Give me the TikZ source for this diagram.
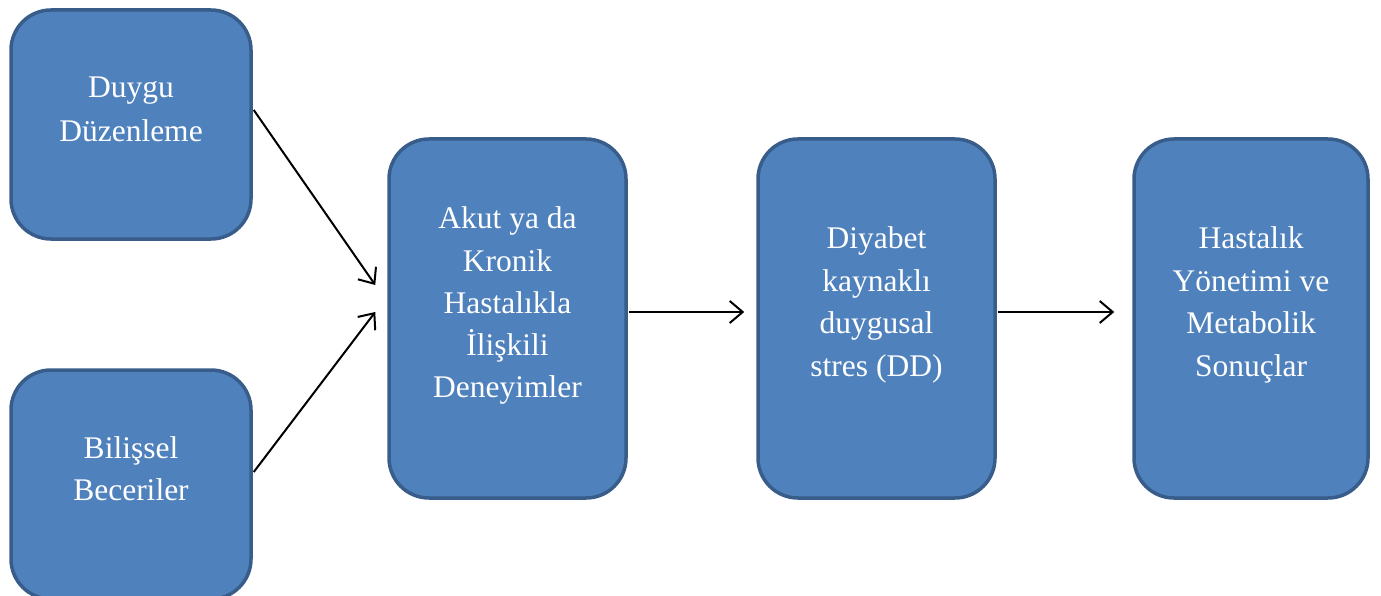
\documentclass[tikz,border=0pt]{standalone}
\usepackage{fontspec}
\setmainfont{Liberation Serif}
\usetikzlibrary{arrows.meta,calc}
\definecolor{boxfill}{HTML}{4F81BD}
\definecolor{boxline}{HTML}{385D8A}
\tikzset{
  box/.style={draw=boxline, fill=boxfill, line width=3.5pt, rounded corners=40pt, inner sep=0pt, rectangle},
  txt/.style={text=white, font=\fontsize{31.5}{42}\selectfont, inner sep=0pt, anchor=base},
  conn/.style={line width=2pt, -{Straight Barb[length=13pt,width=22pt,line width=2pt]}}
}
\begin{document}
\begin{tikzpicture}[x=1pt,y=-1pt]
\clip (0,0) rectangle (1381,596);
\useasboundingbox (0,0) rectangle (1381,596);
\node[box, minimum width=240pt, minimum height=229pt] (b1) at (131,124.5) {};
\node[box, minimum width=240pt, minimum height=229pt] (b2) at (131,484.5) {};
\node[box, minimum width=237pt, minimum height=359pt] (b3) at (507.5,318.5) {};
\node[box, minimum width=237pt, minimum height=359pt] (b4) at (876.5,318.5) {};
\node[box, minimum width=234pt, minimum height=359pt] (b5) at (1251,318.5) {};
% texts
\node[txt] (t1a) at (131,98) {Duygu};
\node[txt] (t1b) at (131,142) {Düzenleme};
\node[txt] (t2a) at (131,458) {Bilişsel};
\node[txt] (t2b) at (131,500) {Beceriler};
\node[txt] (t3a) at (507.5,229) {Akut ya da};
\node[txt] (t3b) at (507.5,271) {Kronik};
\node[txt] (t3c) at (507.5,313) {Hastalıkla};
\node[txt] (t3d) at (507.5,355) {İlişkili};
\node[txt] (t3e) at (507.5,397) {Deneyimler};
\node[txt] (t4a) at (876.5,248) {Diyabet};
\node[txt] (t4b) at (876.5,291) {kaynaklı};
\node[txt] (t4c) at (876.5,333) {duygusal};
\node[txt] (t4d) at (876.5,376) {stres (DD)};
\node[txt] (t5a) at (1251,248) {Hastalık};
\node[txt] (t5b) at (1251,291) {Yönetimi ve};
\node[txt] (t5c) at (1251,333) {Metabolik};
\node[txt] (t5d) at (1251,376) {Sonuçlar};
% connectors
\draw[conn] ($(b1.east)+(1,-14.5)$) -- ($(b3.west)+(-12,-33.5)$);
\draw[conn] ($(b2.east)+(1,-12.5)$) -- ($(b3.west)+(-12,-6.5)$);
\draw[conn] ($(b3.east)+(1,-6.5)$) -- ($(b4.west)+(-12,-6.5)$);
\draw[conn] ($(b4.east)+(1,-6.5)$) -- ($(b5.west)+(-18,-6.5)$);
\end{tikzpicture}
\end{document}
